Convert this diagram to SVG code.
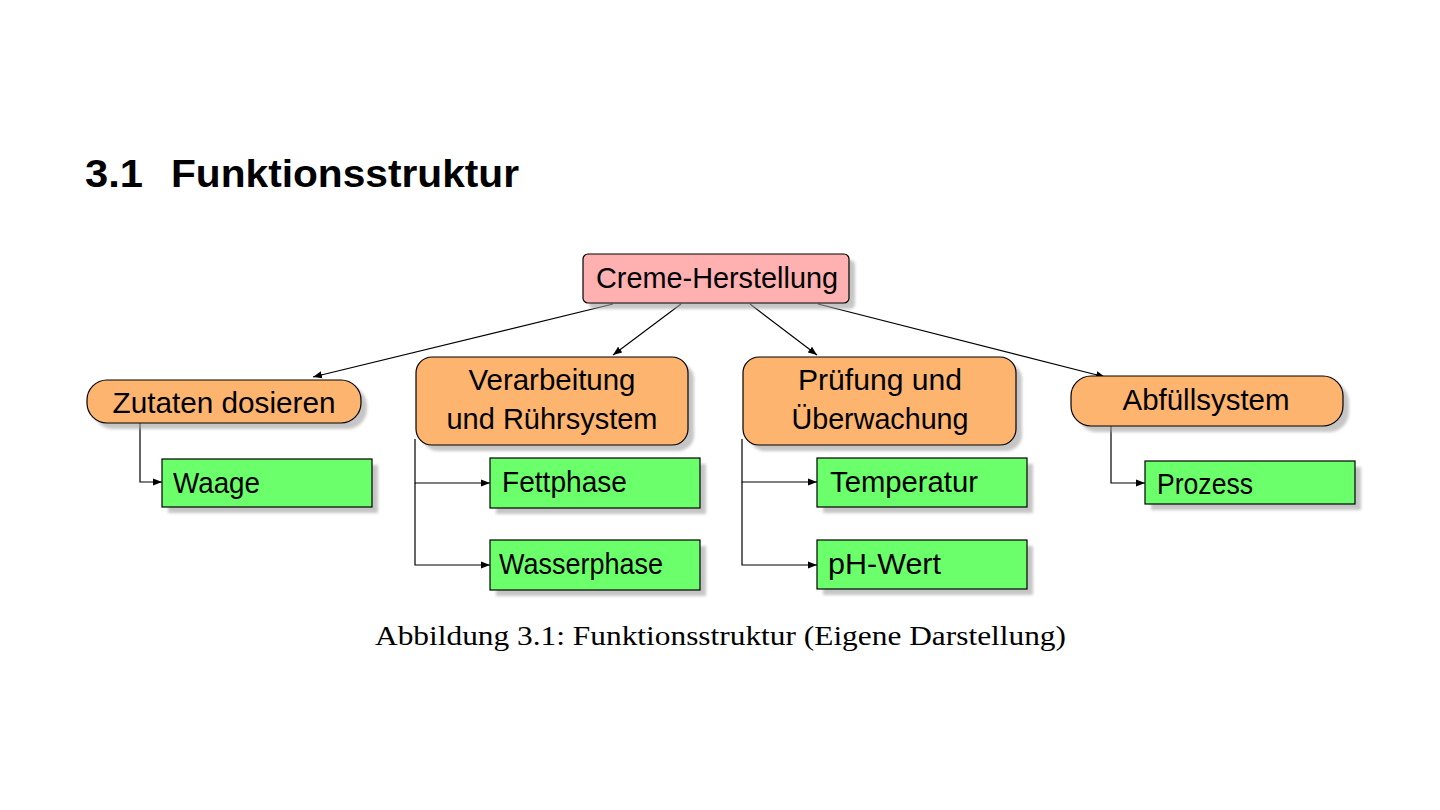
<svg xmlns="http://www.w3.org/2000/svg" width="1440" height="810" viewBox="0 0 1440 810">
<style>
.t{font-family:"Liberation Sans",Arial,sans-serif;font-size:29px;fill:#000}
.c{text-anchor:middle}
.root{fill:#ffb0b0;stroke:#000;stroke-width:1.2}
.mid{fill:#fdb46f;stroke:#000;stroke-width:1.2}
.leaf{fill:#6bff6b;stroke:#000;stroke-width:1.2}
.sh{fill:#a0a0a0;opacity:0.6;filter:url(#blur)}
.ln{fill:none;stroke:#000;stroke-width:1.2;marker-end:url(#arr)}
.h{font-family:"Liberation Sans",Arial,sans-serif;font-weight:bold;font-size:38px}
</style>
<defs>
<filter id="blur" x="-10%" y="-20%" width="120%" height="140%"><feGaussianBlur stdDeviation="1.5"/></filter>
<marker id="arr" viewBox="0 0 10 10" refX="10" refY="5" markerWidth="9" markerHeight="9" markerUnits="userSpaceOnUse" orient="auto"><path d="M0,1 L10,5 L0,9 z" fill="#000"/></marker>
</defs>
<rect width="1440" height="810" fill="#fff"/>
<text class="h" x="85" y="187" textLength="58" lengthAdjust="spacingAndGlyphs">3.1</text>
<text class="h" x="171" y="187" textLength="348" lengthAdjust="spacingAndGlyphs">Funktionsstruktur</text>
<g id="connectors">
<line class="ln" x1="613" y1="304" x2="313" y2="377"/>
<line class="ln" x1="681" y1="304" x2="613" y2="355"/>
<line class="ln" x1="750" y1="304" x2="817" y2="355"/>
<line class="ln" x1="818" y1="304" x2="1105" y2="377"/>
<path class="ln" d="M140,423 V482 H162"/>
<path class="ln" d="M415,439 V483 H490"/>
<path class="ln" d="M415,483 V565 H490"/>
<path class="ln" d="M742,439 V482 H817"/>
<path class="ln" d="M742,482 V565 H817"/>
<path class="ln" d="M1111,426 V483 H1145"/>
</g>
<g id="root">
<rect class="sh" x="589" y="260" width="266" height="49" rx="5"/>
<rect class="root" x="583" y="254" width="266" height="49" rx="5"/>
<text class="t c" x="717" y="288" textLength="242" lengthAdjust="spacingAndGlyphs">Creme-Herstellung</text>
</g>
<g id="zutaten">
<rect class="sh" x="93" y="386" width="274" height="43" rx="20"/>
<rect class="mid" x="87" y="380" width="274" height="43" rx="20"/>
<text class="t c" x="224" y="413" textLength="223" lengthAdjust="spacingAndGlyphs">Zutaten dosieren</text>
</g>
<g id="verarbeitung">
<rect class="sh" x="422" y="363" width="272" height="88" rx="16"/>
<rect class="mid" x="416" y="357" width="272" height="88" rx="16"/>
<text class="t c" x="552" y="390" textLength="167" lengthAdjust="spacingAndGlyphs">Verarbeitung</text>
<text class="t c" x="552" y="429" textLength="211" lengthAdjust="spacingAndGlyphs">und Rührsystem</text>
</g>
<g id="pruefung">
<rect class="sh" x="749" y="363" width="273" height="88" rx="16"/>
<rect class="mid" x="743" y="357" width="273" height="88" rx="16"/>
<text class="t c" x="880" y="390" textLength="164" lengthAdjust="spacingAndGlyphs">Prüfung und</text>
<text class="t c" x="880" y="429" textLength="177" lengthAdjust="spacingAndGlyphs">Überwachung</text>
</g>
<g id="abfuell">
<rect class="sh" x="1077" y="382" width="272" height="50" rx="20"/>
<rect class="mid" x="1071" y="376" width="272" height="50" rx="20"/>
<text class="t c" x="1206" y="410" textLength="167" lengthAdjust="spacingAndGlyphs">Abfüllsystem</text>
</g>
<g id="waage">
<rect class="sh" x="168" y="465" width="210" height="48"/>
<rect class="leaf" x="162" y="459" width="210" height="48"/>
<text class="t" x="173" y="493" textLength="87" lengthAdjust="spacingAndGlyphs">Waage</text>
</g>
<g id="fettphase">
<rect class="sh" x="496" y="464" width="210" height="50"/>
<rect class="leaf" x="490" y="458" width="210" height="50"/>
<text class="t" x="502" y="492" textLength="125" lengthAdjust="spacingAndGlyphs">Fettphase</text>
</g>
<g id="wasserphase">
<rect class="sh" x="496" y="546" width="210" height="50"/>
<rect class="leaf" x="490" y="540" width="210" height="50"/>
<text class="t" x="499" y="574" textLength="164" lengthAdjust="spacingAndGlyphs">Wasserphase</text>
</g>
<g id="temperatur">
<rect class="sh" x="823" y="464" width="210" height="49"/>
<rect class="leaf" x="817" y="458" width="210" height="49"/>
<text class="t" x="830" y="492" textLength="148" lengthAdjust="spacingAndGlyphs">Temperatur</text>
</g>
<g id="phwert">
<rect class="sh" x="823" y="546" width="210" height="49"/>
<rect class="leaf" x="817" y="540" width="210" height="49"/>
<text class="t" x="828" y="574" textLength="113" lengthAdjust="spacingAndGlyphs">pH-Wert</text>
</g>
<g id="prozess">
<rect class="sh" x="1151" y="467" width="210" height="43"/>
<rect class="leaf" x="1145" y="461" width="210" height="43"/>
<text class="t" x="1157" y="494" textLength="96" lengthAdjust="spacingAndGlyphs">Prozess</text>
</g>
<text x="375" y="645" textLength="691" lengthAdjust="spacingAndGlyphs" style="font-family:'Liberation Serif','Times New Roman',serif;font-size:28px">Abbildung 3.1: Funktionsstruktur (Eigene Darstellung)</text>
</svg>
